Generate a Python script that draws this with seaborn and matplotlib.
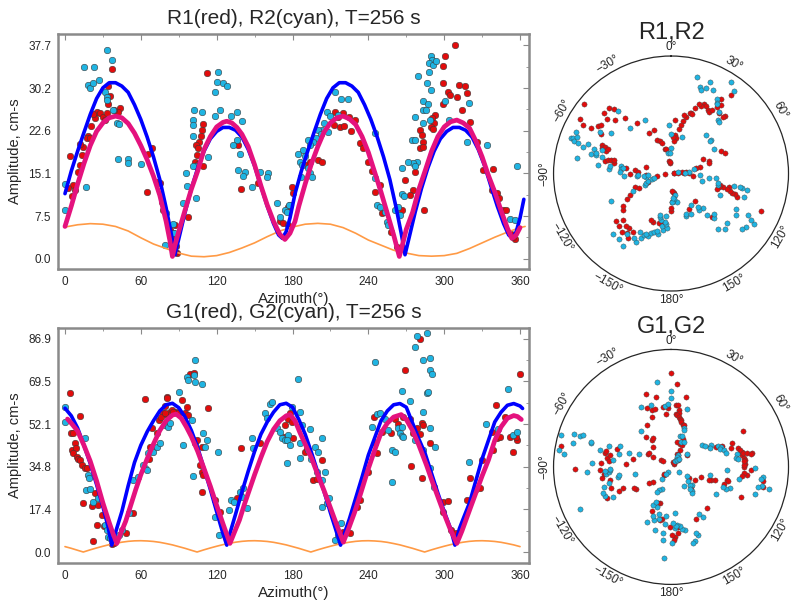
import numpy as np
import matplotlib
matplotlib.use('Agg')
import matplotlib.pyplot as plt
import seaborn as sns

# ---- R1 (red) / R2 (cyan) picks: azimuth (deg), amplitude (cm-s) ----
r1_az = [37.4, 33.8, 34.3, 25.1, 27.7, 30.3, 23.7, 31.6, 33.0, 43.5,
         42.2, 18.5, 17.1, 19.8, 14.5, 13.2, 11.9, 4.0, 10.5, 6.6,
         7.9, 5.8, 64.6, 72.5, 75.2, 76.5, 77.8, 83.1, 85.7, 87.0,
         66.0, 69.0, 12.0, 20.5, 22.0, 38.5, 36.0, 2.5, 87.5, 88.5,
         86.8, 84.0,
         112.6, 109.5, 108.1, 107.3, 106.3, 103.6, 105.5, 104.7, 102.9, 105.5,
         108.9, 137.1, 139.0, 153.0, 97.0, 170.1, 172.7, 176.7,
         213.6, 216.3, 220.2, 217.6, 221.0, 213.1, 229.5, 233.4, 240.0, 249.2,
         245.3, 250.5, 179.3, 180.7, 176.7, 190.4, 193.9, 200.4, 203.1, 269.0,
         258.0, 263.0, 224.5, 226.0, 236.0, 242.5,
         308.6, 300.7, 298.8, 299.3, 312.0, 316.5, 303.3, 304.6, 310.4, 318.3,
         299.3, 313.8, 292.7, 290.1, 292.0, 289.3, 290.9, 280.9, 282.2, 283.0,
         280.9, 283.5, 320.4, 325.7, 338.9, 337.6, 341.5, 346.8, 276.9, 275.6,
         272.9, 284.0, 266.4, 349.0, 353.0, 356.0, 354.5, 330.8, 343.5]
r1_amp = [33.5, 30.5, 27.3, 26.0, 25.7, 25.0, 24.8, 24.5, 25.7, 26.6,
          26.0, 21.6, 21.3, 21.3, 19.8, 18.3, 16.6, 18.1, 15.4, 13.0,
          12.1, 11.0, 11.8, 13.6, 13.3, 10.1, 8.6, 5.1, 4.5, 6.0,
          18.5, 19.5, 20.3, 23.5, 25.5, 26.3, 28.7, 12.5, 2.2, 1.0,
          1.1, 3.8,
          32.9, 23.8, 22.7, 21.6, 20.7, 20.1, 19.5, 18.3, 17.1, 16.8,
          16.4, 20.1, 12.4, 13.3, 7.4, 6.7, 6.25, 6.0,
          26.0, 25.1, 25.7, 23.3, 23.4, 23.6, 24.5, 20.4, 17.1, 13.0,
          11.8, 8.1, 12.7, 11.6, 9.2, 16.6, 17.1, 17.4, 17.1, 13.9,
          4.8, 2.0, 25.0, 22.5, 19.5, 15.5,
          37.8, 35.8, 34.0, 31.1, 30.7, 30.5, 29.5, 28.9, 28.6, 29.2,
          27.3, 26.2, 25.4, 24.8, 23.9, 23.3, 22.9, 22.7, 21.9, 20.7,
          19.5, 19.7, 24.2, 20.7, 15.8, 12.1, 11.7, 8.6, 15.4, 12.1,
          11.3, 8.6, 8.6, 8.6, 4.3, 3.4, 3.9, 15.6, 10.8]

r2_az = [33.5, 37.4, 15.3, 23.2, 18.5, 19.8, 22.4, 26.9, 31.6, 33.0,
         33.5, 38.2, 40.9, 42.7, 42.2, 49.6, 50.1, 60.1, 0.0, 16.4,
         0.0, 85.7, 86.2, 79.1, 80.0,
         121.3, 120.0, 125.3, 127.9, 118.7, 102.1, 108.1, 122.6, 131.3, 135.8,
         139.8, 101.5, 101.0, 118.7, 101.5, 135.8, 133.2, 138.5, 113.4, 103.6,
         101.0, 95.7, 137.1, 142.4, 141.1, 147.7, 160.9, 159.6, 96.8, 103.6,
         93.1, 167.5, 170.1, 174.1, 178.0, 154.5,
         213.6, 218.4, 223.7, 207.0, 209.7, 216.3, 205.2, 203.6, 200.4, 202.6,
         207.8, 198.3, 196.5, 192.0, 193.9, 188.6, 184.6, 189.9, 185.9, 187.3,
         192.5, 193.9, 186.7, 195.2, 177.2, 175.4, 245.3, 245.3, 246.6, 249.2,
         253.2, 254.5, 255.8, 261.1, 263.7, 265.1, 266.4, 266.4,
         289.3, 290.1, 288.3, 291.4, 288.3, 293.5, 279.6, 286.7, 289.3, 300.7,
         319.9, 283.5, 287.5, 283.5, 285.6, 276.9, 288.8, 283.5, 274.3, 276.9,
         317.8, 334.2, 278.8, 275.6, 276.9, 271.6, 268.2, 357.4, 352.1, 356.0,
         304.0]
r2_amp = [36.9, 35.1, 33.8, 33.8, 30.7, 30.1, 31.1, 31.6, 29.5, 28.6,
          28.0, 26.3, 24.0, 23.8, 17.6, 17.7, 17.0, 16.8, 13.2, 12.7,
          8.6, 6.1, 4.6, 2.4, 8.0,
          33.0, 31.3, 31.0, 30.5, 29.5, 26.3, 26.0, 26.2, 25.2, 26.0,
          24.4, 24.5, 23.6, 25.2, 21.6, 21.0, 20.1, 18.5, 18.0, 16.4,
          16.3, 15.2, 15.7, 15.4, 14.7, 12.7, 15.2, 14.5, 12.8, 10.7,
          9.9, 9.8, 7.4, 8.6, 9.5, 15.3,
          29.5, 28.2, 28.3, 26.0, 25.2, 25.4, 23.9, 22.7, 22.7, 22.0,
          22.4, 21.3, 20.7, 21.0, 20.1, 19.2, 18.5, 18.1, 17.1, 16.6,
          16.0, 15.1, 14.5, 14.5, 9.5, 8.3, 22.2, 14.2, 9.5, 9.2,
          8.3, 6.5, 5.9, 8.6, 9.2, 7.7, 11.5, 16.0,
          35.8, 35.2, 34.5, 34.2, 33.0, 35.0, 32.2, 31.0, 29.9, 27.8,
          27.6, 27.9, 27.4, 26.2, 26.3, 25.0, 24.6, 23.9, 21.0, 20.9,
          20.7, 20.1, 17.1, 17.0, 16.4, 17.1, 11.0, 16.4, 7.0, 6.8,
          24.6]

# ---- G1 (red) / G2 (cyan) picks ----
g1_az = [4.0, 11.9, 4.7, 6.6, 7.9, 5.3, 8.4, 6.6, 9.2, 10.5,
         11.9, 13.2, 15.8, 17.1, 14.5, 21.1, 26.4, 29.0, 25.1, 22.4,
         63.3, 68.6, 67.3, 66.5, 80.4, 77.8, 80.4, 83.1, 37.5, 39.0,
         48.2, 53.7, 30.5, 23.7, 72.7, 74.0, 76.0, 79.0, 85.0, 88.0,
         90.0, 79.5, 80.9,
         98.9, 102.1, 92.3, 96.3, 95.0, 97.6, 113.4, 88.4, 85.7, 102.9,
         104.2, 108.1, 106.8, 108.1, 109.5, 108.1, 122.6, 118.7, 139.0, 135.8,
         174.1, 176.7, 154.4, 173.5,
         178.0, 179.3, 180.7, 189.9, 191.2, 196.5, 199.1, 220.2, 237.4, 240.0,
         245.3, 246.6, 250.5, 261.1, 263.7, 269.0, 230.7, 233.4, 225.2, 203.4,
         244.3, 258.0, 267.5, 272.9,
         280.9, 282.2, 283.5, 278.2, 275.6, 280.9, 288.8, 273.5, 282.2, 299.3,
         299.3, 320.4, 317.8, 324.4, 328.3, 329.7, 338.9, 341.5, 337.6, 344.2,
         341.0, 348.1, 352.1, 354.7, 357.4, 302.8, 305.6, 309.6, 360.0, 356.5]
g1_amp = [64.6, 55.5, 48.3, 48.3, 44.3, 41.5, 42.2, 40.2, 38.8, 38.1,
          37.5, 35.4, 34.1, 34.1, 19.8, 18.9, 19.1, 15.1, 11.0, 4.5,
          62.3, 50.4, 42.9, 37.9, 63.3, 56.5, 55.8, 57.2, 3.2, 3.8,
          7.7, 15.8, 10.5, 24.0, 48.5, 53.7, 55.0, 56.5, 57.7, 57.2,
          56.5, 59.5, 62.8,
          72.4, 72.8, 61.9, 59.2, 56.5, 55.8, 58.8, 56.5, 56.9, 44.3,
          45.6, 42.9, 35.4, 32.7, 31.4, 24.6, 16.4, 21.2, 42.5, 21.9,
          51.7, 54.4, 44.3, 47.0,
          56.5, 53.1, 46.3, 40.9, 42.2, 29.3, 29.7, 8.3, 32.0, 32.7,
          44.3, 40.2, 49.0, 54.4, 52.0, 74.1, 18.5, 21.3, 7.7, 37.5,
          55.1, 48.3, 55.1, 54.4,
          86.8, 52.4, 51.7, 50.4, 48.3, 47.9, 44.3, 35.2, 30.3, 20.5,
          16.2, 30.0, 21.2, 25.3, 25.9, 37.5, 41.5, 46.3, 49.0, 47.0,
          59.9, 55.1, 47.0, 40.9, 45.6, 20.6, 9.1, 7.7, 72.7, 47.0]

g2_az = [0.0, 0.0, 15.8, 18.5, 19.0, 16.4, 19.8, 22.4, 26.4, 31.6,
         33.0, 34.3, 35.6, 54.1, 63.3, 65.9, 68.6, 69.9, 79.1, 81.8,
         83.1, 43.0, 45.5, 51.0, 57.7, 61.8, 64.5, 72.7, 75.4,
         102.9, 96.3, 97.6, 102.1, 102.9, 108.1, 90.5, 100.2, 109.5, 112.1,
         93.1, 110.8, 121.3, 101.5, 131.1, 133.7, 138.5, 141.1, 139.8, 130.0,
         144.3, 118.7, 122.1, 147.7, 162.2, 163.5, 158.2, 159.6, 167.5, 170.1,
         171.4, 174.1, 175.4, 176.7, 149.0,
         245.3, 184.6, 266.4, 246.6, 249.2, 253.2, 242.6, 255.8, 259.0, 261.1,
         263.7, 265.1, 266.9, 179.3, 185.9, 187.3, 193.9, 203.6, 175.4, 178.0,
         185.9, 192.5, 197.8, 200.4, 194.6, 185.9, 199.1, 205.7, 203.1, 203.1,
         207.0, 213.6, 259.0, 216.0, 218.4, 209.0,
         286.2, 278.8, 276.9, 283.5, 288.8, 288.8, 290.1, 286.7, 287.5, 273.0,
         283.5, 266.4, 267.7, 276.9, 288.8, 292.7, 283.5, 288.8, 291.9, 319.9,
         350.8, 354.7, 357.4, 333.0, 342.3]
g2_amp = [59.2, 53.1, 46.6, 31.4, 30.3, 25.3, 25.7, 20.5, 21.9, 11.0,
          9.0, 6.2, 5.6, 29.3, 34.1, 40.2, 41.5, 40.6, 51.7, 51.1,
          52.4, 7.0, 9.0, 15.8, 30.7, 35.5, 33.4, 42.9, 44.3,
          78.2, 71.4, 70.1, 72.1, 69.1, 68.3, 65.3, 53.8, 48.3, 45.6,
          43.6, 42.9, 40.9, 31.1, 21.2, 20.5, 24.6, 25.9, 22.5, 17.1,
          17.8, 14.4, 6.9, 46.3, 60.5, 61.2, 56.5, 54.7, 50.4, 49.0,
          46.3, 45.6, 36.1, 47.7, 42.2,
          77.5, 70.7, 65.6, 56.1, 56.5, 54.4, 51.0, 49.7, 41.5, 40.9,
          50.4, 48.3, 47.4, 59.2, 57.1, 51.7, 50.1, 46.3, 45.6, 43.6,
          44.3, 41.5, 42.9, 40.9, 37.9, 38.2, 32.7, 32.7, 29.3, 18.5,
          19.8, 4.9, 28.6, 7.0, 11.8, 22.0,
          89.1, 88.1, 83.6, 78.2, 79.2, 74.1, 72.4, 64.6, 65.3, 61.5,
          56.9, 51.0, 47.0, 45.6, 50.4, 42.9, 41.5, 34.4, 26.6, 36.5,
          66.4, 47.7, 49.0, 52.0, 50.0]

# ---- model curves, R panel ----
rb_az = [0, 5, 10, 15, 20, 25, 30, 35, 40, 45, 50, 55, 60, 65, 70, 75, 80,
         84, 87, 90, 95, 100, 105, 110, 115, 120, 125, 130, 135, 140, 145,
         150, 155, 160, 165, 169, 172, 175, 178, 182, 187, 192, 197, 202,
         207, 212, 217, 222, 227, 232, 237, 242, 247, 252, 257, 262, 266,
         269, 272, 277, 282, 287, 292, 297, 302, 307, 312, 317, 322, 327,
         332, 337, 342, 347, 351, 354, 357, 360, 363]
rb_amp = [11.5, 15.5, 19.0, 22.3, 25.5, 28.3, 30.2, 31.1, 31.1, 30.5, 29.4,
          27.2, 24.6, 21.5, 18.0, 14.0, 9.0, 4.5, 0.7, 3.5, 8.2, 12.4,
          16.0, 19.0, 21.2, 22.5, 23.2, 23.2, 22.7, 21.5, 19.3, 16.4, 12.8,
          9.3, 6.2, 4.2, 3.6, 4.8, 7.2, 11.5, 15.5, 19.0, 22.3, 25.5, 28.3,
          30.2, 31.1, 31.1, 30.5, 29.4, 27.2, 24.6, 21.5, 18.0, 14.0, 9.0,
          4.5, 0.7, 3.5, 8.2, 12.4, 16.0, 19.0, 21.2, 22.5, 23.2, 23.2,
          22.7, 21.5, 19.3, 16.4, 12.8, 9.3, 6.2, 4.2, 3.6, 4.8, 7.2, 10.5]
rm_az = [0, 5, 10, 15, 20, 25, 30, 35, 40, 45, 50, 55, 60, 65, 70, 75, 80,
         83, 85, 87, 90, 95, 100, 105, 110, 115, 120, 125, 128, 132, 136,
         140, 145, 150, 155, 160, 165, 170, 174, 178, 182, 185, 190, 195,
         200, 205, 210, 215, 220, 225, 230, 235, 240, 245, 250, 255, 260,
         264.5, 267, 270, 275, 280, 285, 290, 295, 300, 305, 310, 315, 320,
         325, 330, 335, 340, 345, 350, 353.5, 357, 360]
rm_amp = [5.7, 9.3, 13.2, 16.8, 20.0, 22.5, 24.0, 24.9, 25.2, 24.9, 23.9,
          22.2, 20.0, 17.5, 14.6, 11.2, 6.6, 3.2, 0.4, 2.4, 4.8, 8.6, 12.3,
          15.5, 19.3, 21.6, 23.3, 24.1, 24.3, 24.0, 23.2, 22.0, 19.8, 16.6,
          12.9, 9.5, 6.6, 4.3, 3.4, 4.5, 6.6, 9.3, 13.2, 16.8, 19.8, 22.4,
          24.0, 24.9, 25.2, 24.7, 23.7, 21.6, 18.8, 15.3, 11.8, 8.0, 4.2,
          0.4, 2.5, 5.2, 8.2, 12.3, 15.6, 19.0, 21.6, 23.3, 24.2, 24.5,
          24.0, 23.1, 20.8, 18.0, 14.7, 11.8, 8.5, 5.4, 3.6, 4.2, 5.5]
ro_az = [0, 10, 20, 30, 40, 50, 60, 70, 80, 90, 100, 110, 120, 130, 140,
         150, 160, 170, 180, 190, 200, 210, 220, 230, 240, 250, 260, 270,
         280, 290, 300, 310, 320, 330, 340, 350, 360, 364]
ro_amp = [5.6, 6.0, 6.2, 6.1, 5.7, 4.9, 3.7, 2.6, 1.8, 1.0, 0.45, 0.35, 0.55,
          1.1, 1.9, 2.8, 3.9, 4.9, 5.6, 6.1, 6.25, 6.1, 5.5, 4.5, 3.3, 2.4,
          1.5, 1.0, 0.55, 0.45, 0.55, 0.95, 1.8, 2.8, 3.8, 4.7, 5.5, 5.7]

# ---- model curves, G panel ----
gb_az = [0, 5, 10, 15, 20, 25, 30, 34, 37, 40, 45, 50, 55, 60, 65, 70, 75,
         80, 85, 90, 95, 100, 105, 110, 115, 120, 125, 128, 131, 135, 140,
         145, 150, 155, 160, 165, 170, 175, 180, 185, 190, 195, 200, 205,
         210, 214, 218, 221, 225, 230, 235, 240, 245, 250, 255, 260, 265,
         270, 275, 280, 285, 290, 295, 300, 305, 308.5, 312, 315, 320, 325,
         330, 335, 340, 345, 350, 355, 360, 362]
gb_amp = [58.6, 55.5, 50.5, 43.5, 36.0, 27.5, 18.5, 10.5, 2.8, 8.0, 16.5,
          27.0, 36.5, 43.5, 49.0, 53.5, 57.5, 60.0, 60.6, 58.8, 55.0, 49.5,
          42.5, 34.0, 25.5, 16.4, 7.5, 2.8, 8.5, 15.5, 24.5, 33.0, 41.0,
          48.0, 53.0, 57.0, 60.0, 60.6, 59.0, 54.0, 48.0, 40.5, 32.5, 24.6,
          16.0, 9.5, 2.8, 7.5, 13.5, 22.0, 30.5, 39.5, 46.5, 53.5, 57.5,
          60.0, 60.5, 59.0, 52.5, 46.0, 40.0, 32.0, 24.0, 16.5, 9.6, 2.8,
          9.5, 13.5, 20.0, 29.0, 38.0, 45.5, 53.0, 57.0, 59.8, 60.5, 59.5,
          58.5]
gm_az = [2, 5, 10, 15, 20, 25, 30, 35, 38, 41, 44, 48, 52, 56, 60, 65, 70,
         75, 80, 85, 88, 92, 96, 100, 105, 110, 115, 120, 125, 130.5, 134,
         138, 142, 146, 150, 155, 160, 165, 170, 175, 178, 182, 186, 190,
         195, 200, 205, 210, 215, 220.2, 224, 229, 234, 240, 245, 250, 255,
         260, 266, 270, 275, 280, 286, 290, 295, 300, 305, 310, 314, 320,
         325, 330, 335, 340, 345, 350, 355, 358, 361]
gm_amp = [54.2, 52.5, 49.3, 43.5, 37.0, 29.0, 20.0, 12.0, 7.5, 3.5, 7.5,
          12.5, 19.0, 25.5, 31.5, 38.0, 44.0, 49.5, 53.5, 55.8, 56.2, 54.5,
          51.0, 47.0, 41.0, 34.0, 26.8, 19.0, 11.5, 3.5, 8.0, 13.0, 19.5,
          25.5, 31.5, 38.5, 45.0, 50.0, 53.5, 55.5, 56.0, 53.5, 48.5, 44.0,
          38.3, 31.5, 25.0, 18.0, 11.0, 4.0, 9.0, 16.0, 24.0, 34.0, 41.5,
          48.5, 52.5, 55.0, 56.0, 54.0, 49.5, 43.5, 35.4, 29.5, 22.5, 15.5,
          9.0, 3.5, 8.5, 17.0, 24.0, 31.0, 37.5, 45.5, 51.0, 54.5, 55.6,
          55.2, 54.0]
go_az = [0, 5, 10, 14.5, 20, 25, 30, 35, 40, 45, 50, 55, 60, 65, 70, 75, 80, 85,
         90, 95, 100, 104.5, 110, 115, 120, 125, 130, 135, 140, 145, 150, 155, 160, 165, 170, 175,
         180, 185, 190, 194.5, 200, 205, 210, 215, 220, 225, 230, 235, 240, 245, 250, 255, 260, 265,
         270, 275, 280, 284.5, 290, 295, 300, 305, 310, 315, 320, 325, 330, 335, 340, 345, 350, 355,
         360]
go_amp = [2.2, 1.5, 0.7, 0.0, 0.9, 1.65, 2.35, 3.0, 3.55, 4.0, 4.35, 4.55, 4.6, 4.5, 4.3, 3.95, 3.45, 2.9,
          2.2, 1.5, 0.7, 0.0, 0.9, 1.65, 2.35, 3.0, 3.55, 4.0, 4.35, 4.55, 4.6, 4.5, 4.3, 3.95, 3.45, 2.9,
          2.2, 1.5, 0.7, 0.0, 0.9, 1.65, 2.35, 3.0, 3.55, 4.0, 4.35, 4.55, 4.6, 4.5, 4.3, 3.95, 3.45, 2.9,
          2.2, 1.5, 0.7, 0.0, 0.9, 1.65, 2.35, 3.0, 3.55, 4.0, 4.35, 4.55, 4.6, 4.5, 4.3, 3.95, 3.45, 2.9,
          2.2]

r_max = 37.7   # top tick of the R panel
g_max = 86.9   # top tick of the G panel

sns.set_style('white')
plt.rcParams['font.family'] = ['Liberation Sans', 'DejaVu Sans']

RED = '#e20c0c'
CYAN = '#1fb4e2'
BLUE = '#0000ff'
PINK = '#e4127e'
ORANGE = '#ff9a45'
FRAME = '#8a8a8a'

fig = plt.figure(figsize=(7.96, 6.07), dpi=100)


def amp_panel(rect, red, cyan, blue, pink, orange, ymax, ylim):
    ax = fig.add_axes(rect)
    sns.scatterplot(x=red[0], y=red[1], ax=ax, color=RED, s=22,
                    edgecolor='#3a3a3a', linewidth=0.4, zorder=2, legend=False)
    sns.scatterplot(x=cyan[0], y=cyan[1], ax=ax, color=CYAN, s=22,
                    edgecolor='#3a3a3a', linewidth=0.4, zorder=2, legend=False)
    sns.lineplot(x=orange[0], y=orange[1], ax=ax, sort=False, estimator=None,
                 color=ORANGE, linewidth=1.2, zorder=3)
    sns.lineplot(x=blue[0], y=blue[1], ax=ax, sort=False, estimator=None,
                 color=BLUE, linewidth=2.6, zorder=4)
    sns.lineplot(x=pink[0], y=pink[1], ax=ax, sort=False, estimator=None,
                 color=PINK, linewidth=3.4, zorder=5)
    ax.set_xlim(-5.5, 367.1)
    ax.set_ylim(*ylim)
    ax.set_xticks(range(0, 361, 60))
    ax.set_xticks(range(0, 361, 30), minor=True)
    yt = np.linspace(0, ymax, 6)
    ax.set_yticks(yt)
    ax.set_yticklabels([f'{v:.1f}' for v in yt])
    ax.set_yticks(np.linspace(0, ymax, 11), minor=True)
    ax.tick_params(which='both', direction='in', top=True, right=True,
                   color=FRAME, labelsize=8.5, pad=5)
    ax.tick_params(which='major', length=4, width=0.8)
    ax.tick_params(which='minor', length=2.5, width=0.6)
    for sp in ax.spines.values():
        sp.set_color(FRAME)
        sp.set_linewidth(1.8)
    ax.set_xlabel('Azimuth(°)', fontsize=11, labelpad=3)
    ax.set_ylabel('Amplitude, cm-s', fontsize=10.5, labelpad=4)
    return ax


def polar_panel(rect, red, cyan, rmax):
    ax = fig.add_axes(rect, projection='polar')
    ax.set_theta_zero_location('N')
    ax.set_theta_direction(-1)
    sns.scatterplot(x=np.deg2rad(red[0]), y=red[1], ax=ax, color=RED, s=14,
                    edgecolor='#444444', linewidth=0.3, legend=False)
    sns.scatterplot(x=np.deg2rad(cyan[0]), y=cyan[1], ax=ax, color=CYAN, s=14,
                    edgecolor='#444444', linewidth=0.3, legend=False)
    ax.set_ylim(0, rmax)
    ax.set_xticks([])
    ax.set_yticks([])
    ax.grid(False)
    ax.set_xlabel('')
    ax.set_ylabel('')
    ax.spines['polar'].set_linewidth(0.9)
    for ang in range(-150, 181, 30):
        lab = f'{ang}°'.replace('-', '\u2212')
        if abs(ang) <= 90:
            rot = -ang
        elif ang > 0:
            rot = 180 - ang
        else:
            rot = -180 - ang
        ax.text(np.deg2rad(ang), rmax * 1.075, lab, rotation=rot,
                ha='center', va='center', fontsize=8.5, clip_on=False)
    return ax


amp_panel([0.0729, 0.5568, 0.5917, 0.3871], (r1_az, r1_amp), (r2_az, r2_amp),
          (rb_az, rb_amp), (rm_az, rm_amp), (ro_az, ro_amp), r_max, (-1.82, 39.7))
amp_panel([0.0729, 0.0720, 0.5917, 0.3881], (g1_az, g1_amp), (g2_az, g2_amp),
          (gb_az, gb_amp), (gm_az, gm_amp), (go_az, go_amp), g_max, (-4.6, 91.4))

polar_panel([0.6954, 0.5206, 0.2952, 0.3871], (r1_az, r1_amp), (r2_az, r2_amp), 39.7)
polar_panel([0.6954, 0.0372, 0.2952, 0.3871], (g1_az, g1_amp), (g2_az, g2_amp), 91.0)

fig.text(293.5 / 796, 1 - 18 / 607, 'R1(red), R2(cyan), T=256 s',
         ha='center', va='center', fontsize=15)
fig.text(293.5 / 796, 1 - 312 / 607, 'G1(red), G2(cyan), T=256 s',
         ha='center', va='center', fontsize=15)
fig.text(671 / 796, 1 - 33 / 607, 'R1,R2', ha='center', va='center', fontsize=17)
fig.text(671 / 796, 1 - 327.5 / 607, 'G1,G2', ha='center', va='center', fontsize=17)

fig.savefig('out.png', dpi=100)
